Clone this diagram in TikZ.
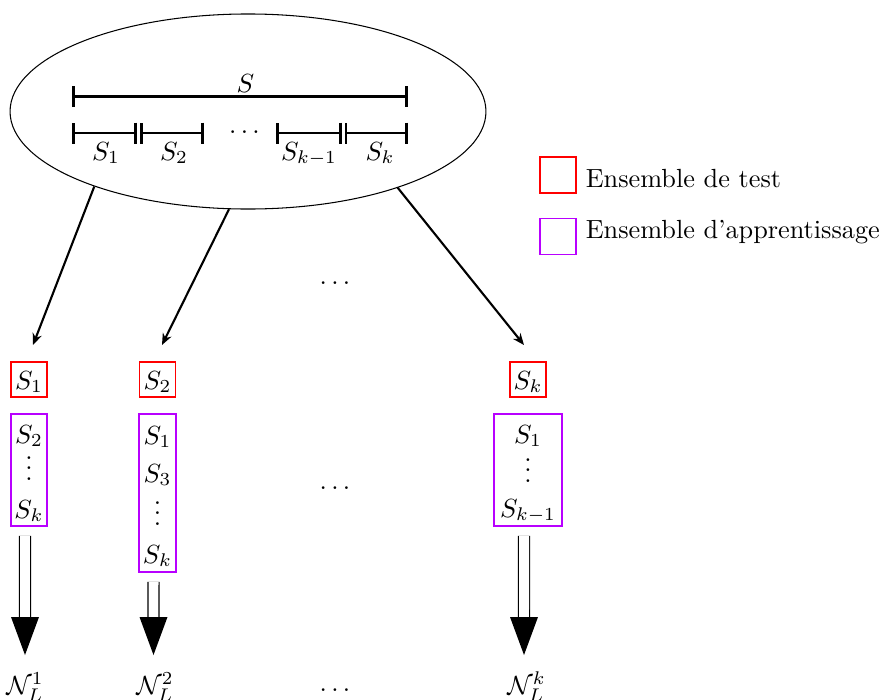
\documentclass[tikz,border=0pt]{standalone}
\usetikzlibrary{arrows.meta,shapes.geometric,calc}
\definecolor{trainc}{rgb}{0.72,0,1}
\newcommand{\fatarrow}[2]{%
  \draw[dbl] (#1) -- ($(#2)+(0,-37)$);
  \fill ($(#2)+(-14,-38)$) -- ($(#2)+(14,-38)$) -- (#2) -- cycle;}
\newcommand{\vdts}{\vbox{\baselineskip4pt\lineskiplimit0pt\hbox{.}\hbox{.}\hbox{.}}}
\begin{document}
\begin{tikzpicture}[x=0.38095pt,y=-0.38095pt,
  seg/.style={line width=1.1pt,{Bar[width=8pt]}-{Bar[width=8pt]}},
  link/.style={thick,-{Stealth[length=4.4pt,width=3.6pt]}},
  testbox/.style={draw=red,semithick,inner sep=0pt,minimum width=13.7pt,minimum height=13.5pt},
  trainbox/.style={draw=trainc,semithick,inner sep=0pt},
  lab/.style={anchor=base,inner sep=0pt},
  legtext/.style={anchor=base west},
  dbl/.style={double,double distance=3.8pt,line width=0.4pt},
]
\useasboundingbox (0,0) rectangle (883,699);

% ellipse with the set S and its folds
\node[ellipse,draw,minimum width=181.3pt,minimum height=74.3pt,inner sep=0pt] (E) at (248,111.5) {};
\coordinate (a0) at (72,96.5);
\coordinate (a1) at (408,96.5);
\draw[seg] (a0) -- (a1);
\node[lab] (S) at (245.5,92) {$S$};

\coordinate (b0) at (72,133);
\coordinate (b1) at (137,133);
\coordinate (b1r) at (140,133);
\coordinate (b2) at (204,133);
\coordinate (b3) at (276,133);
\coordinate (b4) at (341.5,133);
\coordinate (b4r) at (344.5,133);
\coordinate (b5) at (408,133);
\draw[seg] (b0) -- (b1);
\draw[seg] (b1r) -- (b2);
\draw[seg] (b3) -- (b4);
\draw[seg] (b4r) -- (b5);
\node[lab] (dotsA) at (244.5,133.1) {$\ldots$};
\node[lab] (l1) at (106,160) {$S_1$};
\node[lab] (l2) at (174,160) {$S_2$};
\node[lab] (l3) at (309,160) {$S_{k-1}$};
\node[lab] (l4) at (380,160) {$S_k$};

% arrows from the ellipse
\coordinate (t1) at (33,345);
\coordinate (t2) at (162,345);
\coordinate (t3) at (524,345);
\draw[link] (E.206) -- (t1);
\draw[link] (E.259) -- (t2);
\draw[link] (E.333) -- (t3);
\node[lab] (dotsB) at (335,284.7) {$\ldots$};

% test boxes
\node[testbox] (T1) at (29,379.5) {};
\node[testbox] (T2) at (157.5,379.5) {};
\node[testbox] (Tk) at (528,379.5) {};
\node[lab] (T1l) at (29,389) {$S_1$};
\node[lab] (T2l) at (157.5,389) {$S_2$};
\node[lab] (Tkl) at (528,389) {$S_k$};

% training boxes
\node[trainbox,minimum width=13.7pt,minimum height=42.7pt] (P1) at (29,470) {};
\node[trainbox,minimum width=14.1pt,minimum height=60.2pt] (P2) at (157.5,493) {};
\node[trainbox,minimum width=25.9pt,minimum height=42.7pt] (Pk) at (528,470) {};

\node[lab] (P1a) at (29,443) {$S_2$};
\node[lab] (P1b) at (29,480) {\vdts};
\node[lab] (P1c) at (29,518) {$S_k$};

\node[lab] (P2a) at (157.5,444) {$S_1$};
\node[lab] (P2b) at (157.5,482) {$S_3$};
\node[lab] (P2c) at (157.5,525) {\vdts};
\node[lab] (P2d) at (157.5,563) {$S_k$};

\node[lab] (Pka) at (528,443) {$S_1$};
\node[lab] (Pkb) at (528,482) {\vdts};
\node[lab] (Pkc) at (528,517) {$S_{k-1}$};

\node[lab] (dotsC) at (335,489.4) {$\ldots$};

% fat arrows to the networks
\coordinate (f1) at (25,655);
\coordinate (f2) at (153.5,655);
\coordinate (fk) at (524,655);
\fatarrow{[xshift=-1.52pt,yshift=-3.43pt]P1.south}{f1}
\fatarrow{[xshift=-1.52pt,yshift=-3.43pt]P2.south}{f2}
\fatarrow{[xshift=-1.52pt,yshift=-3.43pt]Pk.south}{fk}

\node[lab] (N1) at (25,694) {$\mathcal{N}_L^1$};
\node[lab] (N2) at (155,694) {$\mathcal{N}_L^2$};
\node[lab] (Nk) at (526.5,694) {$\mathcal{N}_L^k$};
\node[lab] (dotsD) at (335,691) {$\ldots$};

% legend
\node[testbox,minimum width=13.7pt,minimum height=13.7pt] (L1) at (558,175) {};
\node[trainbox,minimum width=13.7pt,minimum height=13.7pt] (L2) at (558,236.5) {};
\node[legtext] (L1t) at (576.5,187.7) {Ensemble de test};
\node[legtext] (L2t) at (576.5,238) {Ensemble d'apprentissage};
\end{tikzpicture}
\end{document}
